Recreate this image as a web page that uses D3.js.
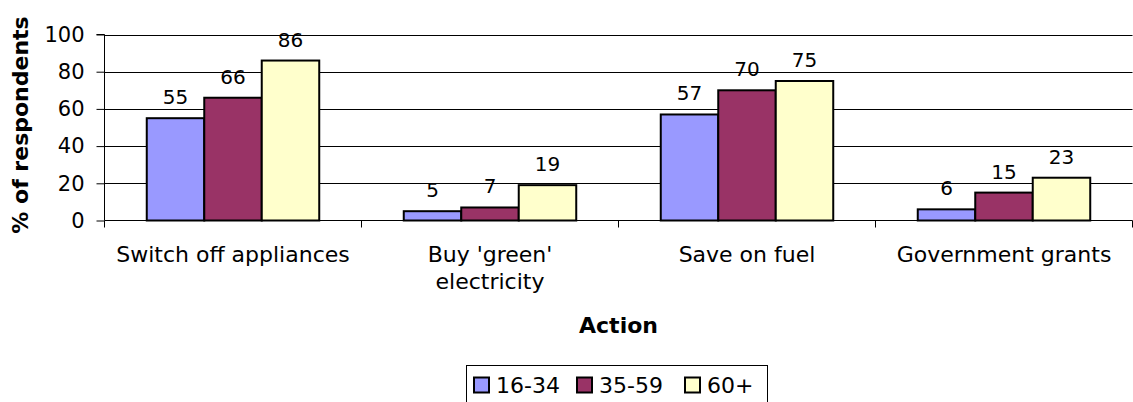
<!DOCTYPE html>
<html>
<head>
<meta charset="utf-8">
<script src="https://cdn.jsdelivr.net/npm/d3@7"></script>
<style>
  html, body { margin: 0; padding: 0; background: #fff; }
  svg { display: block; font-family: "DejaVu Sans", Verdana, sans-serif; }
</style>
</head>
<body>
<svg id="chart" width="1133" height="402"></svg>
<script>
// Survey: share of respondents taking each action, by age group
const categories = ["Switch off appliances", "Buy 'green' electricity", "Save on fuel", "Government grants"];
const categoryLines = [["Switch off appliances"], ["Buy 'green'", "electricity"], ["Save on fuel"], ["Government grants"]];
const seriesNames = ["16-34", "35-59", "60+"];
const values1634 = [55, 5, 57, 6];
const values3559 = [66, 7, 70, 15];
const values60plus = [86, 19, 75, 23];
const yTicks = [0, 20, 40, 60, 80, 100];
const colors = ["#9999FF", "#993366", "#FFFFCC"];

const series = [values1634, values3559, values60plus];
const FONT = "DejaVu Sans, Verdana, sans-serif";

const svg = d3.select("#chart");
const W = 1133;
const x0 = 104.5, x1 = W - 0.5;
const yTop = 34.5, yBot = 220.5;

const x = d3.scaleBand().domain(categories).range([x0, x1]).paddingInner(0).paddingOuter(0);
const xs = d3.scaleBand().domain(d3.range(seriesNames.length))
  .range([0, x.bandwidth()]).paddingOuter(0.735).paddingInner(0);
const y = d3.scaleLinear().domain([0, 100]).range([yBot, yTop]);

// horizontal gridlines
svg.append("g").selectAll("line").data(yTicks.filter(d => d > 0)).join("line")
  .attr("x1", x0).attr("x2", x1)
  .attr("y1", d => Math.round(y(d)) + 0.5).attr("y2", d => Math.round(y(d)) + 0.5)
  .attr("stroke", "#000").attr("stroke-width", 1);

// y axis
const yAxis = d3.axisLeft(y).tickValues(yTicks).tickSize(8).tickPadding(12).tickFormat(d3.format("d"));
const gy = svg.append("g").attr("transform", `translate(${x0},0)`).call(yAxis);
gy.attr("font-family", FONT).attr("font-size", 21);
gy.selectAll(".tick line").attr("stroke", "#000");
gy.selectAll(".tick text").attr("fill", "#000");
gy.select(".domain").attr("stroke", "#000").attr("d", `M-8,${yTop}H0V${yBot}`);

// x axis with ticks at category boundaries
const boundaries = categories.map(c => x(c)).concat([x1]);
const gx = svg.append("g");
gx.append("line").attr("x1", x0).attr("x2", x1).attr("y1", yBot).attr("y2", yBot).attr("stroke", "#000");
gx.selectAll("line.b").data(boundaries).join("line").attr("class", "b")
  .attr("x1", d => Math.round(d) - 0.5).attr("x2", d => Math.round(d) - 0.5)
  .attr("y1", yBot).attr("y2", yBot + 7).attr("stroke", "#000");

// category labels
const catG = svg.append("g").selectAll("text").data(categories).join("text")
  .attr("x", d => x(d) + x.bandwidth() / 2)
  .attr("y", 262)
  .attr("text-anchor", "middle").attr("font-size", 22).attr("fill", "#000");
catG.each(function(d, i) {
  const t = d3.select(this);
  categoryLines[i].forEach((line, j) => {
    t.append("tspan").attr("x", x(d) + x.bandwidth() / 2).attr("dy", j === 0 ? 0 : 27).text(line);
  });
});

// bars
const groups = svg.append("g").selectAll("g").data(categories).join("g")
  .attr("transform", d => `translate(${x(d)},0)`);
groups.selectAll("rect").data((d, i) => series.map((s, k) => ({ k, v: s[i] }))).join("rect")
  .attr("x", d => xs(d.k))
  .attr("width", xs.bandwidth())
  .attr("y", d => y(d.v))
  .attr("height", d => yBot - y(d.v))
  .attr("fill", d => colors[d.k])
  .attr("stroke", "#000").attr("stroke-width", 2);

// value labels
groups.selectAll("text").data((d, i) => series.map((s, k) => ({ k, v: s[i] }))).join("text")
  .attr("x", d => xs(d.k) + xs.bandwidth() / 2)
  .attr("y", d => y(d.v) - 14)
  .attr("text-anchor", "middle").attr("font-size", 20).attr("fill", "#000")
  .text(d => d.v);

// axis titles
svg.append("text").attr("x", (x0 + x1) / 2).attr("y", 333)
  .attr("text-anchor", "middle").attr("font-size", 22).attr("font-weight", "bold").text("Action");
svg.append("text").attr("transform", `translate(28,125) rotate(-90)`)
  .attr("text-anchor", "middle").attr("font-size", 22).attr("font-weight", "bold").text("% of respondents");

// legend
const leg = svg.append("g");
leg.append("rect").attr("x", 466.5).attr("y", 365.5).attr("width", 301).attr("height", 50)
  .attr("fill", "#fff").attr("stroke", "#000").attr("stroke-width", 1);
const legX = [474, 577, 685];
seriesNames.forEach((name, k) => {
  leg.append("rect").attr("x", legX[k]).attr("y", 377.5).attr("width", 15).attr("height", 15)
    .attr("fill", colors[k]).attr("stroke", "#000").attr("stroke-width", 2);
  leg.append("text").attr("x", legX[k] + 22).attr("y", 393).attr("font-size", 22).text(name);
});
</script>
</body>
</html>
